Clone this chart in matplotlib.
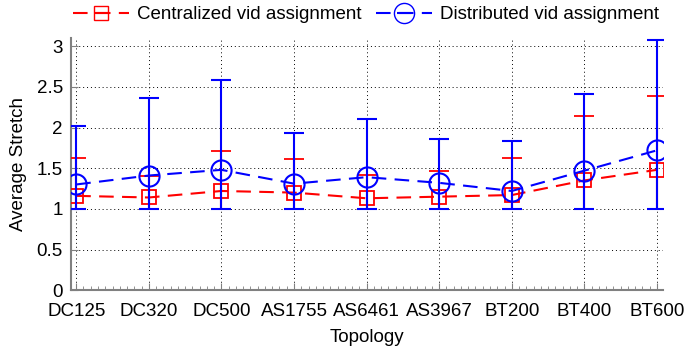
import matplotlib
matplotlib.use('Agg')
import matplotlib.pyplot as plt
from matplotlib.lines import Line2D
from matplotlib.legend_handler import HandlerTuple
from matplotlib.ticker import MultipleLocator

plt.rcParams['font.family'] = ['Liberation Sans', 'DejaVu Sans']

# данные
topologies = ['DC125', 'DC320', 'DC500', 'AS1755', 'AS6461', 'AS3967', 'BT200', 'BT400', 'BT600']
cent_mean = [1.16, 1.14, 1.22, 1.20, 1.13, 1.15, 1.17, 1.35, 1.48]
cent_low = [1.0, 1.0, 1.0, 1.0, 1.0, 1.0, 1.0, 1.0, 1.0]
cent_high = [1.63, 1.40, 1.71, 1.61, 1.42, 1.47, 1.63, 2.14, 2.39]
dist_mean = [1.30, 1.41, 1.48, 1.31, 1.39, 1.32, 1.22, 1.47, 1.72]
dist_low = [1.0, 1.0, 1.0, 1.0, 1.0, 1.0, 1.0, 1.0, 1.0]
dist_high = [2.02, 2.36, 2.58, 1.93, 2.11, 1.86, 1.83, 2.41, 3.08]

x = list(range(1, len(topologies) + 1))
dash = (0, (7, 4))
fs = 13.5

fig = plt.figure(figsize=(6.84, 3.5), dpi=100)
ax = fig.add_axes([0.104, 0.171, 0.865, 0.72])

# централизованный вариант (красный)
yerr_c = [[m - lo for m, lo in zip(cent_mean, cent_low)],
          [hi - m for m, hi in zip(cent_mean, cent_high)]]
ax.errorbar(x, cent_mean, yerr=yerr_c, color='red', linestyle=dash, linewidth=1.5,
            marker='s', markersize=10.5, markerfacecolor='none', markeredgewidth=1.3,
            capsize=7, capthick=1.5, elinewidth=1.5, zorder=3)

# распределённый вариант (синий)
yerr_d = [[m - lo for m, lo in zip(dist_mean, dist_low)],
          [hi - m for m, hi in zip(dist_mean, dist_high)]]
ax.errorbar(x, dist_mean, yerr=yerr_d, color='blue', linestyle=dash, linewidth=1.5,
            marker='o', markersize=14.5, markerfacecolor='none', markeredgewidth=1.5,
            capsize=7, capthick=1.5, elinewidth=1.5, zorder=4)

ax.set_xlim(0.93, 9.08)
ax.set_ylim(0, 3.1)
ax.set_xticks(x)
ax.set_xticklabels(topologies)
ax.xaxis.set_minor_locator(MultipleLocator(0.1))
yt = [0, 0.5, 1, 1.5, 2, 2.5, 3]
ax.set_yticks(yt)
ax.set_yticklabels(['0', '0.5', '1', '1.5', '2', '2.5', '3'])

ax.grid(True, which='major', linestyle=(0, (1, 3)), color='black', linewidth=0.7)
for s in ['top', 'right']:
    ax.spines[s].set_visible(False)
for s in ['left', 'bottom']:
    ax.spines[s].set_color('#808080')
    ax.spines[s].set_linewidth(1.5)
ax.tick_params(which='both', direction='in', colors='#808080', labelcolor='black',
               labelsize=fs)
ax.tick_params(which='major', length=5)
ax.tick_params(which='minor', length=3)
ax.tick_params(axis='x', which='major', pad=9)
ax.tick_params(axis='y', which='major', pad=6)
ax.tick_params(axis='y', which='minor', left=False)

ax.set_xlabel('Topology', fontsize=fs, labelpad=7)
ax.set_ylabel('Average Stretch', fontsize=fs, labelpad=7)

# легенда как в MATLAB: пунктир + маркер с горизонтальной чертой
h_c = (Line2D([], [], color='red', linestyle=dash, linewidth=1.5, marker='s',
              markersize=10.5, markerfacecolor='none', markeredgewidth=1.0),
       Line2D([], [], color='red', linestyle='none', marker='_', markersize=10,
              markeredgewidth=1.5))
h_d = (Line2D([], [], color='blue', linestyle=dash, linewidth=1.5, marker='o',
              markersize=14.5, markerfacecolor='none', markeredgewidth=1.0),
       Line2D([], [], color='blue', linestyle='none', marker='_', markersize=10,
              markeredgewidth=1.5))
fig.legend([h_c, h_d], ['Centralized vid assignment', 'Distributed vid assignment'],
           handler_map={tuple: HandlerTuple(ndivide=1)},
           loc='center', bbox_to_anchor=(0.535, 0.958), ncol=2, frameon=False,
           fontsize=fs, handlelength=3.0, columnspacing=0.8, handletextpad=0.4)

fig.savefig('out.png', dpi=100)
